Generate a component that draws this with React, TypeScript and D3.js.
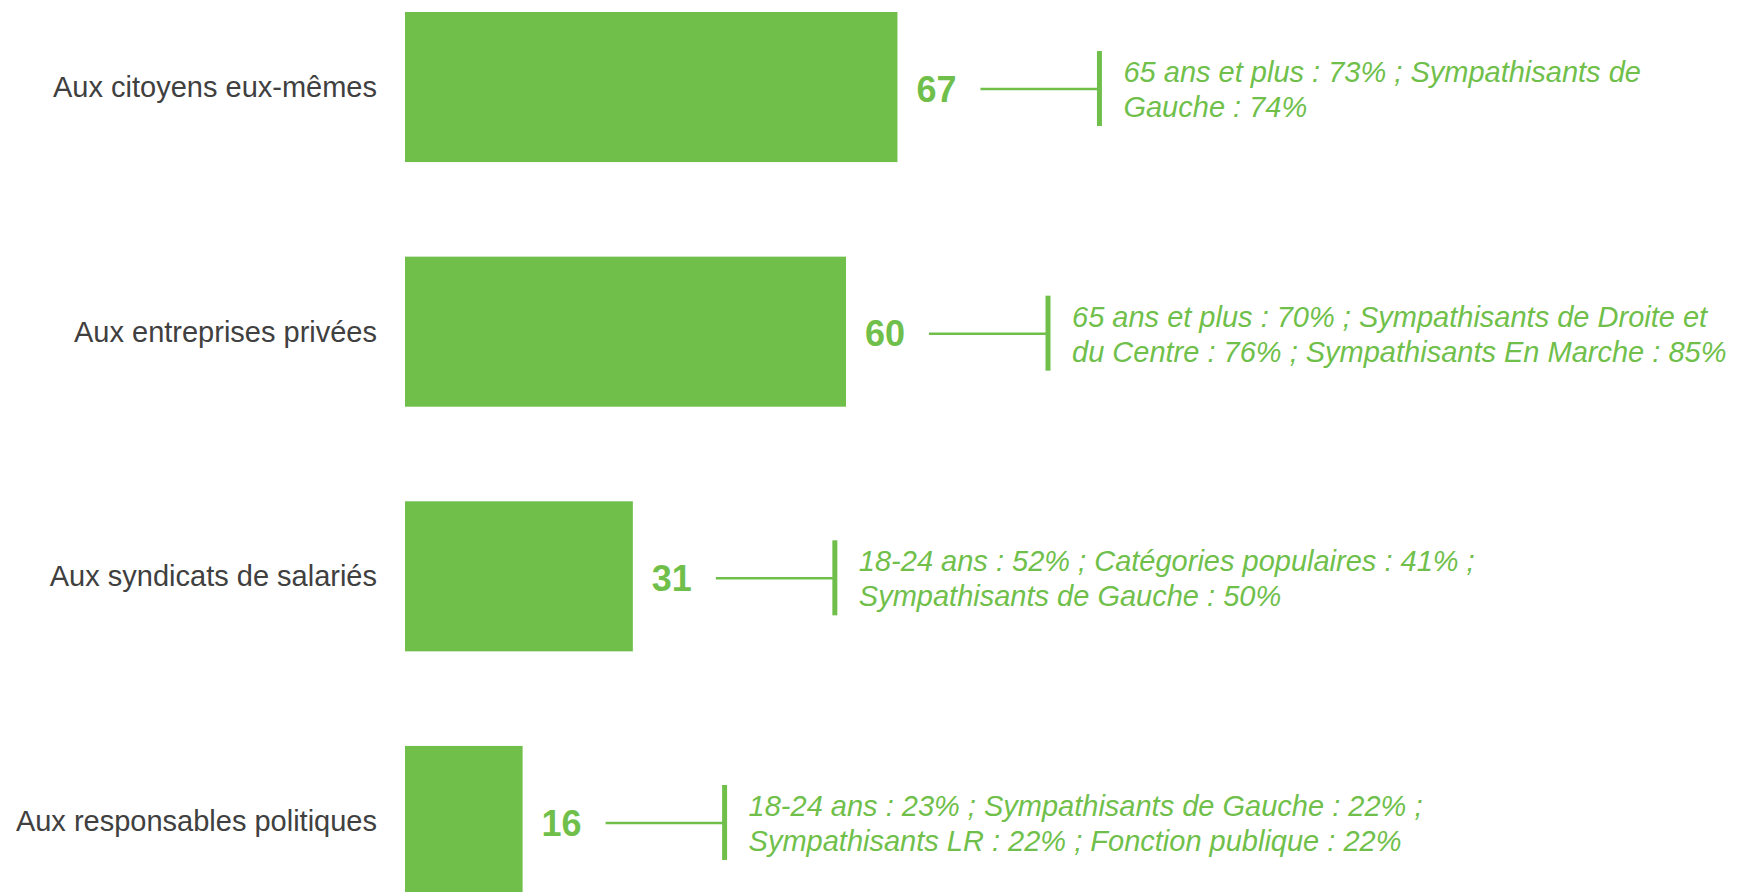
import { useRef, useEffect } from 'react';
import * as d3 from 'd3';

const categories = [
  'Aux citoyens eux-mêmes',
  'Aux entreprises privées',
  'Aux syndicats de salariés',
  'Aux responsables politiques',
];

const values = [67, 60, 31, 16];

const notes = [
  ['65 ans et plus : 73% ; Sympathisants de', 'Gauche : 74%'],
  ['65 ans et plus : 70% ; Sympathisants de Droite et', 'du Centre : 76% ; Sympathisants En Marche : 85%'],
  ['18-24 ans : 52% ; Catégories populaires : 41% ;', 'Sympathisants de Gauche : 50%'],
  ['18-24 ans : 23% ; Sympathisants de Gauche : 22% ;', 'Sympathisants LR : 22% ; Fonction publique : 22%'],
];

const width = 1743;
const height = 892;
const green = '#70bf4b';
const font = '"Liberation Sans", Arial, sans-serif';

export default function App() {
  const ref = useRef<SVGSVGElement>(null);

  useEffect(() => {
    if (!ref.current) return;
    const svg = d3.select(ref.current);
    svg.selectAll('*').remove();

    const data = categories.map((c, i) => ({ cat: c, value: values[i], note: notes[i] }));

    const x = d3.scaleLinear().domain([0, 100]).range([405, 1140]);
    const y = d3
      .scaleBand()
      .domain(categories)
      .range([12, 896])
      .paddingInner(0.3866)
      .paddingOuter(0);

    const g = svg.append('g');

    // bars
    g.selectAll('rect.bar')
      .data(data)
      .enter()
      .append('rect')
      .attr('class', 'bar')
      .attr('x', x(0))
      .attr('y', (d) => y(d.cat)!)
      .attr('width', (d) => x(d.value) - x(0))
      .attr('height', y.bandwidth())
      .attr('fill', green);

    const mid = (d: { cat: string }) => y(d.cat)! + y.bandwidth() / 2;

    // category labels
    g.selectAll('text.cat')
      .data(data)
      .enter()
      .append('text')
      .attr('class', 'cat')
      .attr('x', 377)
      .attr('y', mid)
      .attr('dy', '0.35em')
      .attr('text-anchor', 'end')
      .attr('font-family', font)
      .attr('font-size', 29)
      .attr('fill', '#404040')
      .text((d) => d.cat);

    // value labels
    g.selectAll('text.val')
      .data(data)
      .enter()
      .append('text')
      .attr('class', 'val')
      .attr('x', (d) => x(d.value) + 19)
      .attr('y', (d) => mid(d) + 2)
      .attr('dy', '0.35em')
      .attr('font-family', font)
      .attr('font-weight', 'bold')
      .attr('font-size', 36)
      .attr('fill', green)
      .text((d) => d.value);

    // connectors
    const conn = g.selectAll('g.conn').data(data).enter().append('g').attr('class', 'conn');
    conn
      .append('line')
      .attr('x1', (d) => x(d.value) + 83)
      .attr('x2', (d) => x(d.value) + 202)
      .attr('y1', (d) => mid(d) + 2)
      .attr('y2', (d) => mid(d) + 2)
      .attr('stroke', green)
      .attr('stroke-width', 2.5);
    conn
      .append('line')
      .attr('x1', (d) => x(d.value) + 202)
      .attr('x2', (d) => x(d.value) + 202)
      .attr('y1', (d) => mid(d) - 36)
      .attr('y2', (d) => mid(d) + 39)
      .attr('stroke', green)
      .attr('stroke-width', 5);

    // annotations
    const note = conn
      .append('text')
      .attr('font-family', font)
      .attr('font-style', 'italic')
      .attr('font-size', 29)
      .attr('fill', green);
    note
      .selectAll('tspan')
      .data((d) => d.note.map((t, i) => ({ t, i, d })))
      .enter()
      .append('tspan')
      .attr('x', (e) => x(e.d.value) + 226)
      .attr('y', (e) => mid(e.d) + 2 + (e.i === 0 ? -17 : 18))
      .attr('dy', '0.35em')
      .text((e) => e.t);
  }, []);

  return (
    <svg
      ref={ref}
      width={width}
      height={height}
      style={{ position: 'absolute', left: 0, top: 0, background: '#fff' }}
    />
  );
}
